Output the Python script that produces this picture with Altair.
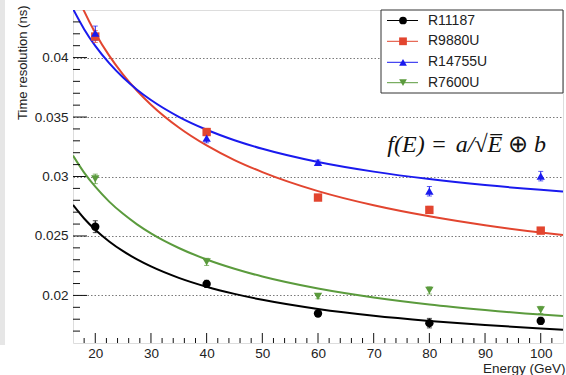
import altair as alt
import pandas as pd

# ---------------- data ----------------
series = ["R11187", "R9880U", "R14755U", "R7600U"]
colors = ["#000000", "#e2452f", "#1a1aee", "#5b9b3d"]
shapes = ["circle", "square", "triangle-up", "triangle-down"]

energy = [20, 40, 60, 80, 100]
res_R11187 = [0.02578, 0.02097, 0.01848, 0.01767, 0.01786]
err_R11187 = [0.0005, 0.0003, 0.0002, 0.0004, 0.0003]
res_R9880U = [0.04177, 0.03374, 0.02823, 0.02719, 0.02545]
err_R9880U = [0.0005, 0.0003, 0.0002, 0.0003, 0.0002]
res_R14755U = [0.04205, 0.03323, 0.03118, 0.02876, 0.03003]
err_R14755U = [0.0006, 0.0004, 0.0002, 0.0004, 0.0004]
res_R7600U = [0.02980, 0.02282, 0.01992, 0.02042, 0.01878]
err_R7600U = [0.0004, 0.0003, 0.0002, 0.0003, 0.0003]

fit_energy = [16, 18, 20, 22.5, 25, 27.5, 30, 35, 40, 45, 50, 60, 70, 80, 90, 100, 104]
fit_R11187 = [0.02761, 0.02647, 0.02552, 0.02454, 0.02372, 0.02303, 0.02244, 0.02148,
              0.02073, 0.02013, 0.01963, 0.01886, 0.01829, 0.01786, 0.01751, 0.01722, 0.01712]
fit_R9880U = [0.04608, 0.04390, 0.04207, 0.04016, 0.03857, 0.03721, 0.03604, 0.03412,
              0.03261, 0.03138, 0.03037, 0.02877, 0.02758, 0.02665, 0.02590, 0.02529, 0.02508]
fit_R14755U = [0.04409, 0.04239, 0.04098, 0.03953, 0.03832, 0.03730, 0.03643, 0.03502,
               0.03393, 0.03305, 0.03233, 0.03122, 0.03041, 0.02978, 0.02928, 0.02888, 0.02874]
fit_R7600U = [0.03176, 0.03033, 0.02914, 0.02789, 0.02686, 0.02598, 0.02522, 0.02399,
              0.02302, 0.02224, 0.02159, 0.02058, 0.01983, 0.01924, 0.01878, 0.01839, 0.01826]

x_major_ticks = [20, 30, 40, 50, 60, 70, 80, 90, 100]
x_minor_ticks = [18, 22, 24, 26, 28, 32, 34, 36, 38, 42, 44, 46, 48, 52, 54, 56, 58,
                 62, 64, 66, 68, 72, 74, 76, 78, 82, 84, 86, 88, 92, 94, 96, 98, 102]
y_major_ticks = [0.02, 0.025, 0.03, 0.035, 0.04]
y_minor_ticks = [0.017, 0.018, 0.019, 0.021, 0.022, 0.023, 0.024, 0.026, 0.027, 0.028,
                 0.029, 0.031, 0.032, 0.033, 0.034, 0.036, 0.037, 0.038, 0.039, 0.041,
                 0.042, 0.043]

# formula pieces: text, italic?
formula_parts = ["f(E)", "=", "a/\u221aE\u0305", "\u2295", "b"]
formula_italic = [True, False, True, False, True]

# ---------------- tables ----------------
res = {"R11187": res_R11187, "R9880U": res_R9880U, "R14755U": res_R14755U, "R7600U": res_R7600U}
err = {"R11187": err_R11187, "R9880U": err_R9880U, "R14755U": err_R14755U, "R7600U": err_R7600U}
fit = {"R11187": fit_R11187, "R9880U": fit_R9880U, "R14755U": fit_R14755U, "R7600U": fit_R7600U}

pts_rows, cap_rows, fit_rows = [], [], []
for s in series:
    for e, v, d in zip(energy, res[s], err[s]):
        pts_rows.append({"energy": e, "value": v, "lo": v - d, "hi": v + d, "series": s})
        cap_rows.append({"energy": e, "value": v - d, "series": s})
        cap_rows.append({"energy": e, "value": v + d, "series": s})
    for e, v in zip(fit_energy, fit[s]):
        fit_rows.append({"energy": e, "value": v, "series": s})
pts = pd.DataFrame(pts_rows)
caps = pd.DataFrame(cap_rows)
fits = pd.DataFrame(fit_rows)

# ---------------- scales / axes ----------------
FONT = "Liberation Sans"
W, H = 490, 333
xscale = alt.Scale(domain=[16, 104], nice=False, zero=False)
yscale = alt.Scale(domain=[0.016, 0.044], nice=False, zero=False)
cscale = alt.Scale(domain=series, range=colors)
sscale = alt.Scale(domain=series, range=shapes)

xaxis = alt.Axis(values=x_major_ticks, format="d", ticks=False, domain=False, grid=False,
                 labelPadding=3, labelFontSize=13.5, labelFont=FONT, labelColor="#222",
                 title="Energy (GeV)", titleX=W + 2, titleY=25, titleAlign="right",
                 titleBaseline="middle", titleFont=FONT, titleFontSize=13.5,
                 titleFontWeight="normal", titleColor="#222")
yaxis = alt.Axis(values=y_major_ticks, format="~g", ticks=False, domain=False, grid=True,
                 gridDash=[1.5, 2], gridColor="#7a7a7a", gridWidth=1,
                 labelPadding=5, labelFontSize=13.5, labelFont=FONT, labelColor="#222",
                 title="Time resolution (ns)", titleX=-51, titleY=-5, titleAngle=270,
                 titleAlign="right", titleBaseline="middle", titleFont=FONT,
                 titleFontSize=13, titleFontWeight="normal", titleColor="#222")

X = lambda: alt.X("energy:Q", scale=xscale, axis=xaxis)
Y = lambda: alt.Y("value:Q", scale=yscale, axis=yaxis)
C = lambda: alt.Color("series:N", scale=cscale, legend=None)

# ---------------- layers ----------------
curves = alt.Chart(fits).mark_line(clip=True, strokeWidth=2, interpolate="monotone").encode(
    x=X(), y=Y(), color=C())

bars = alt.Chart(pts).mark_rule(strokeWidth=1).encode(
    x=X(), y=alt.Y("lo:Q", scale=yscale, axis=yaxis), y2="hi:Q", color=C())

cap_marks = alt.Chart(caps).mark_tick(orient="horizontal", size=5, thickness=1).encode(
    x=X(), y=Y(), color=C())

points = alt.Chart(pts).mark_point(filled=True, size=70, opacity=1).encode(
    x=X(), y=Y(), color=C(),
    shape=alt.Shape("series:N", scale=sscale, legend=None))

xmaj = alt.Chart(pd.DataFrame({"energy": x_major_ticks})).mark_rule(color="#111", strokeWidth=1).encode(
    x=X(), y=alt.value(H), y2=alt.value(H - 10))
xmin = alt.Chart(pd.DataFrame({"energy": x_minor_ticks})).mark_rule(color="#111", strokeWidth=1).encode(
    x=X(), y=alt.value(H), y2=alt.value(H - 5))
ymaj = alt.Chart(pd.DataFrame({"value": y_major_ticks})).mark_rule(color="#111", strokeWidth=1).encode(
    y=Y(), x=alt.value(0), x2=alt.value(14))
ymin = alt.Chart(pd.DataFrame({"value": y_minor_ticks})).mark_rule(color="#111", strokeWidth=1).encode(
    y=Y(), x=alt.value(0), x2=alt.value(7))

formula_x = [333, 366, 406, 445, 467]
formula_layers = []
for part, ital, fx in zip(formula_parts, formula_italic, formula_x):
    style = {"fontStyle": "italic"} if ital else {}
    formula_layers.append(
        alt.Chart(alt.Data(values=[{"label": part}])).mark_text(
            font="Liberation Serif", fontSize=24, align="center",
            baseline="middle", color="#111", **style).encode(
            x=alt.value(fx), y=alt.value(135), text="label:N"))

strip = alt.Chart(alt.Data(values=[{"k": 1}])).mark_rect(color="#e6e6e6").encode(
    x=alt.value(-73), x2=alt.value(-68), y=alt.value(-10), y2=alt.value(H + 2))

legend_layers = [
    alt.Chart(alt.Data(values=[{"k": 1}])).mark_rect(fill="white", stroke="#333", strokeWidth=1).encode(
        x=alt.value(308), x2=alt.value(W), y=alt.value(0), y2=alt.value(83))
]
row_y = [10.5, 31.3, 52.3, 72.7]
for name, col, shp, ry in zip(series, colors, shapes, row_y):
    d = alt.Data(values=[{"label": name}])
    legend_layers.append(alt.Chart(d).mark_rule(color=col, strokeWidth=1).encode(
        x=alt.value(314), x2=alt.value(345), y=alt.value(ry)))
    legend_layers.append(alt.Chart(d).mark_point(filled=True, size=60, color=col, shape=shp, opacity=1).encode(
        x=alt.value(330), y=alt.value(ry)))
    legend_layers.append(alt.Chart(d).mark_text(align="left", baseline="middle", font=FONT,
                                                fontSize=14, color="#222").encode(
        x=alt.value(355), y=alt.value(ry), text="label:N"))

chart = alt.layer(
    strip, ymaj, curves, bars, cap_marks, points, xmaj, xmin, ymin, *formula_layers, *legend_layers
).properties(
    width=W, height=H,
    autosize=alt.AutoSizeParams(type="none"),
    padding={"left": 73, "top": 10, "right": 3, "bottom": 32},
).configure_view(stroke="#222", strokeWidth=1.5).configure(background="white")

chart.save("out.html", embed_options={"renderer": "svg", "actions": False})
